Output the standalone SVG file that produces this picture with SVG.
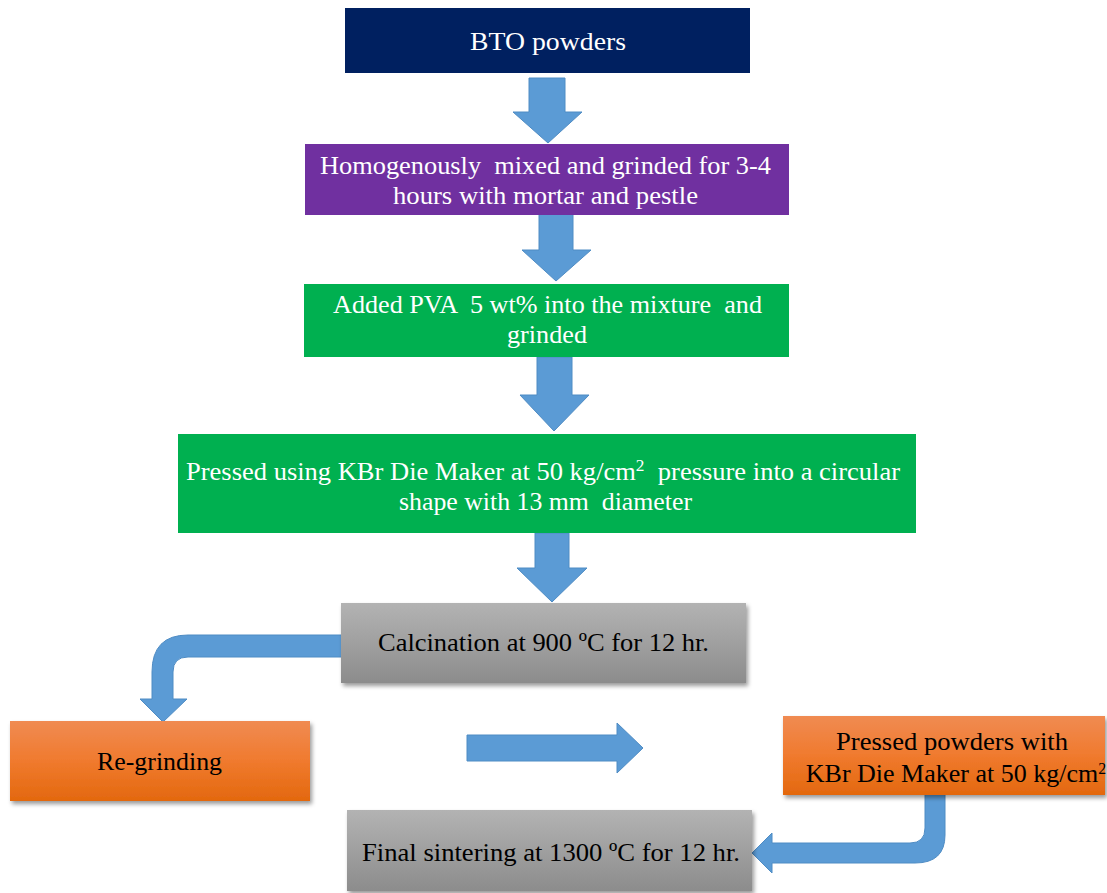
<svg xmlns="http://www.w3.org/2000/svg" width="1107" height="893" viewBox="0 0 1107 893">
<style>
.t{font-family:"Liberation Serif","Times New Roman",serif;font-size:26px;text-anchor:middle;white-space:pre}
.w{fill:#ffffff}
.k{fill:#000000}
.arr{fill:#5B9BD5;stroke:#4F8CC4;stroke-width:1}
</style>
<defs>
<linearGradient id="gray" x1="0" y1="0" x2="0" y2="1">
<stop offset="0" stop-color="#b3b3b3"/>
<stop offset="1" stop-color="#8c8c8c"/>
</linearGradient>
<linearGradient id="orange" x1="0" y1="0" x2="0" y2="1">
<stop offset="0" stop-color="#f08b52"/>
<stop offset="0.5" stop-color="#f07a2e"/>
<stop offset="1" stop-color="#e3680e"/>
</linearGradient>
<filter id="sh" x="-5%" y="-10%" width="115%" height="130%">
<feDropShadow dx="2" dy="3" stdDeviation="2" flood-color="#000" flood-opacity="0.4"/>
</filter>
</defs>
<rect width="1107" height="893" fill="#ffffff"/>

<g id="connectors">
<path class="arr" d="M529,78 H565 V112 H582 L548,143 L513,112 H529 Z"/>
<path class="arr" d="M539,214 H573 V250 H591 L556,281 L522,250 H539 Z"/>
<path class="arr" d="M537,357 H572 V395 H589 L554,431 L520,395 H537 Z"/>
<path class="arr" d="M535,533 H569 V568 H587 L552,602 L517,568 H535 Z"/>
<path class="arr" d="M342,635 V657 H188 Q173,657 173,672 V699 H187 L163,722 L140,699 H152 V672 Q152,635 188,635 Z"/>
<path class="arr" d="M467,735 H617 V723 L643,748 L617,773 V761 H467 Z"/>
<path class="arr" d="M925,794 H945 V835 Q945,863 915,863 H772 V873 L752,853 L772,833 V843 H910 Q925,843 925,828 Z"/>
</g>

<g id="n1">
<rect x="345" y="8" width="405" height="65" fill="#002060"/>
<text class="t w" x="548" y="50" textLength="156" lengthAdjust="spacingAndGlyphs">BTO powders</text>
</g>
<g id="n2">
<rect x="305" y="144" width="484" height="71" fill="#7030A0"/>
<text class="t w" x="545.5" y="174" textLength="451" lengthAdjust="spacingAndGlyphs">Homogenously  mixed and grinded for 3-4</text>
<text class="t w" x="545.5" y="204" textLength="305" lengthAdjust="spacingAndGlyphs">hours with mortar and pestle</text>
</g>
<g id="n3">
<rect x="304" y="284" width="485" height="73" fill="#00B050"/>
<text class="t w" x="547.5" y="313" textLength="429" lengthAdjust="spacingAndGlyphs">Added PVA  5 wt% into the mixture  and</text>
<text class="t w" x="547" y="343" textLength="80" lengthAdjust="spacingAndGlyphs">grinded</text>
</g>
<g id="n4">
<rect x="178" y="434" width="738" height="99" fill="#00B050"/>
<text class="t w" x="543" y="480" textLength="714" lengthAdjust="spacingAndGlyphs">Pressed using KBr Die Maker at 50 kg/cm<tspan font-size="17" dy="-9">2</tspan><tspan dy="9">  pressure into a circular</tspan></text>
<text class="t w" x="545.5" y="510" textLength="293" lengthAdjust="spacingAndGlyphs">shape with 13 mm  diameter</text>
</g>
<g id="n5">
<rect x="341" y="603" width="405" height="80" fill="url(#gray)" filter="url(#sh)"/>
<text class="t k" x="543.5" y="651" textLength="331" lengthAdjust="spacingAndGlyphs">Calcination at 900 ºC for 12 hr.</text>
</g>
<g id="n6">
<rect x="10" y="721" width="300" height="80" fill="url(#orange)" filter="url(#sh)"/>
<text class="t k" x="159.5" y="770" textLength="125" lengthAdjust="spacingAndGlyphs">Re-grinding</text>
</g>
<g id="n7">
<rect x="783" y="716" width="322" height="79" fill="url(#orange)" filter="url(#sh)"/>
<text class="t k" x="952" y="750" textLength="232" lengthAdjust="spacingAndGlyphs">Pressed powders with</text>
<text class="t k" x="956" y="782">KBr Die Maker at 50 kg/cm<tspan font-size="16" dy="-8">2</tspan></text>
</g>
<g id="n8">
<rect x="347" y="810" width="405" height="81" fill="url(#gray)" filter="url(#sh)"/>
<text class="t k" x="551" y="861" textLength="378" lengthAdjust="spacingAndGlyphs">Final sintering at 1300 ºC for 12 hr.</text>
</g>
</svg>
